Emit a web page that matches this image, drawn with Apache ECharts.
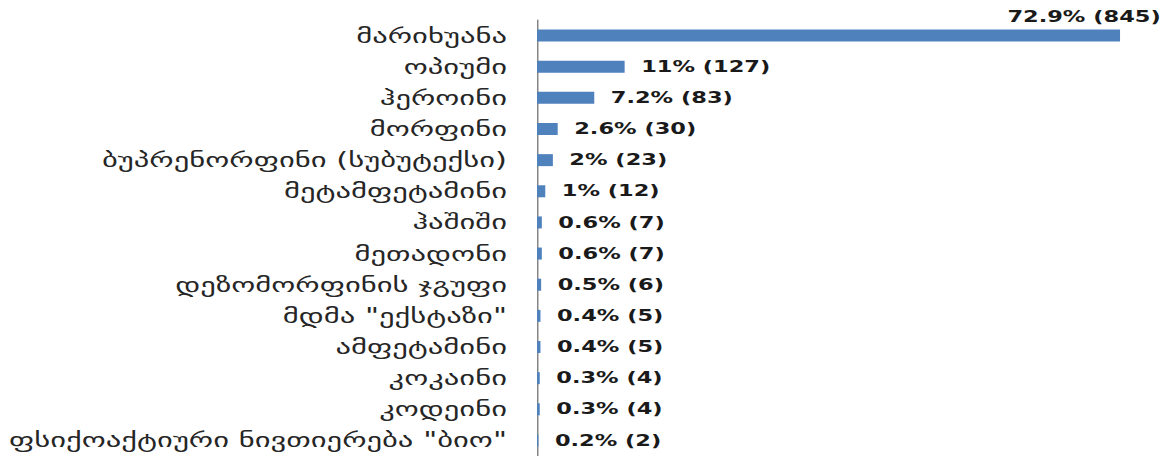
<!DOCTYPE html>
<html>
<head>
<meta charset="utf-8">
<script src="https://cdn.jsdelivr.net/npm/echarts@6/dist/echarts.min.js"></script>
<style>
  html, body { margin: 0; padding: 0; background: #ffffff; overflow: hidden; }
  #wrap { width: 1172px; height: 456px; overflow: hidden; }
  #chart { width: 781.33px; height: 456px; transform: scaleX(1.5); transform-origin: 0 0; }
</style>
</head>
<body>
<div id="wrap"><div id="chart"></div></div>
<script>
const categories = [
  'მარიხუანა',
  'ოპიუმი',
  'ჰეროინი',
  'მორფინი',
  'ბუპრენორფინი (სუბუტექსი)',
  'მეტამფეტამინი',
  'ჰაშიში',
  'მეთადონი',
  'დეზომორფინის ჯგუფი',
  'მდმა "ექსტაზი"',
  'ამფეტამინი',
  'კოკაინი',
  'კოდეინი',
  'ფსიქოაქტიური ნივთიერება "ბიო"'
];
const counts = [845, 127, 83, 30, 23, 12, 7, 7, 6, 5, 5, 4, 4, 2];
const percentLabels = ['72.9%', '11%', '7.2%', '2.6%', '2%', '1%', '0.6%', '0.6%', '0.5%', '0.4%', '0.4%', '0.3%', '0.3%', '0.2%'];

const labelFont = { fontFamily: 'DejaVu Sans', fontWeight: 'bold', fontSize: 15, color: '#1a1a1a' };

const seriesData = counts.map((v, i) => {
  const item = { value: v };
  if (i === 0) {
    item.label = {
      position: ['100%', 0],
      align: 'center',
      verticalAlign: 'bottom',
      offset: [-24, -5],
      distance: 0
    };
  }
  return item;
});

const chart = echarts.init(document.getElementById('chart'), null, { renderer: 'svg' });
chart.setOption({
  animation: false,
  backgroundColor: '#ffffff',
  grid: { left: 358, top: 20, width: 414, height: 438, containLabel: false },
  xAxis: {
    type: 'value',
    min: 0,
    max: 900,
    show: false,
    splitLine: { show: false }
  },
  yAxis: {
    type: 'category',
    data: categories,
    inverse: true,
    axisLine: { show: true, lineStyle: { color: '#868686', width: 1 } },
    axisTick: { show: false },
    axisLabel: {
      margin: 20,
      fontFamily: 'DejaVu Sans',
      fontSize: 20.4,
      color: '#262626'
    }
  },
  series: [{
    type: 'bar',
    data: seriesData,
    barWidth: 12,
    itemStyle: { color: '#4F81BD' },
    label: Object.assign({
      show: true,
      position: 'right',
      distance: 11,
      formatter: p => percentLabels[p.dataIndex] + ' (' + p.value + ')'
    }, labelFont)
  }]
});
</script>
</body>
</html>
